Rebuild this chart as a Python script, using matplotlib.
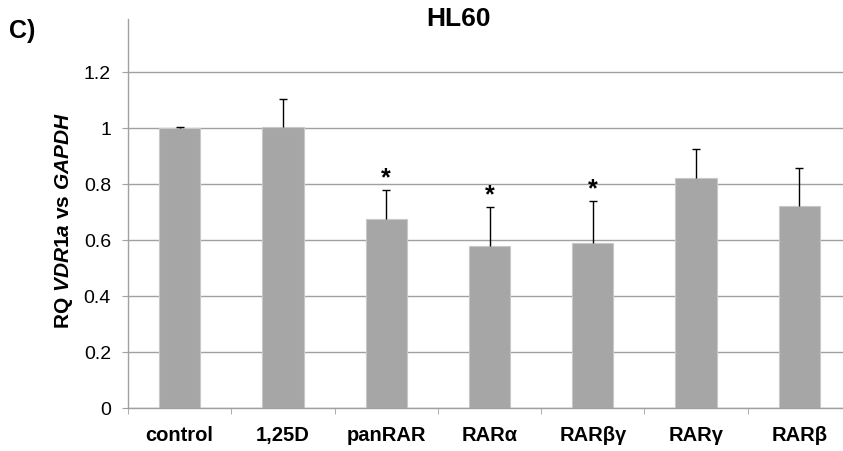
import matplotlib
matplotlib.use("Agg")
import matplotlib.pyplot as plt
import numpy as np
from matplotlib import font_manager

plt.rcParams['font.family'] = ['Liberation Sans', 'DejaVu Sans']
plt.rcParams['mathtext.fontset'] = 'custom'
plt.rcParams['mathtext.it'] = 'Liberation Sans:italic:bold'
plt.rcParams['mathtext.rm'] = 'Liberation Sans:bold'

# title and panel letter look condensed in the picture
names = {f.name for f in font_manager.fontManager.ttflist}
narrow = 'Liberation Sans Narrow' if 'Liberation Sans Narrow' in names else 'Liberation Sans'
title_size = 23 if narrow != 'Liberation Sans' else 19

# data
categories = ['control', '1,25D', 'panRAR', 'RARα', 'RARβγ', 'RARγ', 'RARβ']
values = [1.0, 1.004, 0.676, 0.577, 0.588, 0.820, 0.721]
errors = [0.003, 0.098, 0.103, 0.140, 0.152, 0.105, 0.136]
significant = [False, False, True, True, True, False, False]

fig = plt.figure(figsize=(8.43, 4.52), dpi=100)
# plot area in pixels: left 128, right ~851 (cut off by the figure), top 20, bottom 409
ax = fig.add_axes([128/843, (452-409)/452, (851-128)/843, (409-20)/452])

x = np.arange(len(categories))
ax.bar(x, values, width=0.4, color='#a6a6a6', edgecolor='#c8c8c8', linewidth=0.8, zorder=2)
eb = ax.errorbar(x, values, yerr=[np.zeros(len(errors)), errors], fmt='none',
                 ecolor='black', elinewidth=1, capsize=2.7, capthick=1, zorder=3)
# only the upper cap
eb[1][0].set_visible(False)

for xi, v, e, s in zip(x, values, errors, significant):
    if s:
        ax.text(xi, v + e + 0.045, '*', ha='center', va='center',
                fontsize=18, fontweight='bold')

ax.set_xlim(-0.5, len(categories) - 0.5)
ax.set_ylim(0, 1.389)
ax.set_yticks(np.arange(0, 1.21, 0.2))
ax.set_yticklabels(['0', '0.2', '0.4', '0.6', '0.8', '1', '1.2'], fontsize=14)
ax.yaxis.grid(True, color='#a0a0a0', linewidth=1, zorder=0)
ax.set_axisbelow(True)

ax.set_xticks(x)
ax.set_xticklabels(categories, fontsize=14.5, fontweight='bold')
ax.tick_params(axis='x', which='major', length=0, pad=12)
ax.set_xticks(np.arange(-0.5, len(categories), 1.0), minor=True)
ax.tick_params(axis='x', which='minor', length=4.3, color='#a0a0a0', direction='out')
ax.tick_params(axis='y', length=4.3, color='#a0a0a0', direction='out', pad=8)

for side in ['top', 'right']:
    ax.spines[side].set_visible(False)
for side in ['left', 'bottom']:
    ax.spines[side].set_color('#a0a0a0')
    ax.spines[side].set_linewidth(1)

ax.set_ylabel(r'RQ $\mathit{VDR1a}$ vs $\mathit{GAPDH}$', fontsize=15,
              fontweight='bold')
ax.yaxis.set_label_coords((75 - 128) / 723, (409 - 221) / 389)

fig.text(459/843, 1 - 19/452, 'HL60', ha='center', va='center',
         fontsize=title_size, fontweight='bold', family=[narrow, 'DejaVu Sans'])
fig.text(9/843, 1 - 31/452, 'C)', ha='left', va='center',
         fontsize=title_size - 1, fontweight='bold', family=[narrow, 'DejaVu Sans'])

fig.savefig('out.png', dpi=100)
